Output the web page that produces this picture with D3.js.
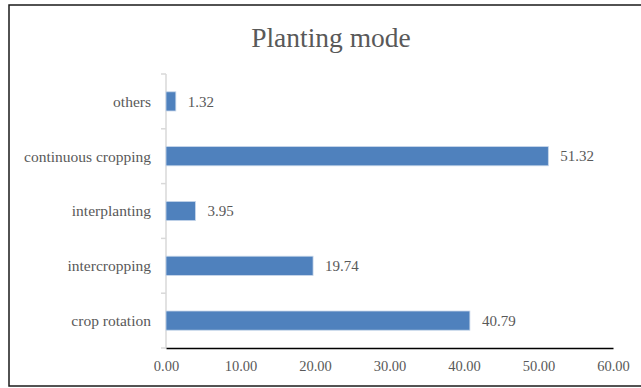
<!DOCTYPE html>
<html>
<head>
<meta charset="utf-8">
<script src="https://cdn.jsdelivr.net/npm/d3@7"></script>
<style>
  html, body { margin: 0; padding: 0; background: #fff; }
  svg { display: block; }
  text { font-family: "Liberation Serif", "Times New Roman", serif; fill: #595959; }
</style>
</head>
<body>
<svg id="chart" width="641" height="388"></svg>
<script>
// Planting mode shares (%)
const categories = ["crop rotation", "intercropping", "interplanting", "continuous cropping", "others"];
const values = [40.79, 19.74, 3.95, 51.32, 1.32];
const xTicks = [0, 10, 20, 30, 40, 50, 60];
const title = "Planting mode";

const svg = d3.select("#chart");

// outer chart frame (right edge runs off the canvas)
svg.append("rect")
  .attr("x", 9).attr("y", 5)
  .attr("width", 700).attr("height", 381)
  .attr("fill", "#fff")
  .attr("stroke", "#1a1a1a").attr("stroke-width", 1.5);

const plot = { left: 166, right: 613, top: 74, bottom: 348 };

const x = d3.scaleLinear().domain([0, 60]).range([plot.left, plot.right]);
const y = d3.scaleBand()
  .domain(categories.slice().reverse())
  .range([plot.top, plot.bottom])
  .paddingInner(0.65).paddingOuter(0.325);

// title
svg.append("text")
  .attr("x", 331).attr("y", 47)
  .attr("text-anchor", "middle")
  .style("font-size", "27.5px")
  .text(title);

// category axis: light grey line with ticks between categories
const band = (plot.bottom - plot.top) / categories.length;
const yAxisG = svg.append("g");
yAxisG.append("line")
  .attr("x1", plot.left).attr("x2", plot.left)
  .attr("y1", plot.top).attr("y2", plot.bottom)
  .attr("stroke", "#d9d9d9").attr("stroke-width", 1.5);
yAxisG.selectAll("line.tick")
  .data(d3.range(categories.length + 1))
  .join("line")
  .attr("class", "tick")
  .attr("x1", plot.left - 5).attr("x2", plot.left)
  .attr("y1", i => plot.top + i * band).attr("y2", i => plot.top + i * band)
  .attr("stroke", "#d9d9d9").attr("stroke-width", 1.5);

yAxisG.selectAll("text.cat")
  .data(categories)
  .join("text")
  .attr("class", "cat")
  .attr("x", plot.left - 15)
  .attr("y", d => y(d) + y.bandwidth() / 2)
  .attr("dy", "0.35em")
  .attr("text-anchor", "end")
  .style("font-size", "15.5px")
  .text(d => d);

// bars
const data = categories.map((c, i) => ({ c, v: values[i] }));
svg.append("g").selectAll("rect")
  .data(data)
  .join("rect")
  .attr("x", x(0))
  .attr("y", d => y(d.c))
  .attr("width", d => x(d.v) - x(0))
  .attr("height", y.bandwidth())
  .attr("fill", "#4f81bd")
  .attr("stroke", "#c6d6ea").attr("stroke-width", 0.8);

// value labels
svg.append("g").selectAll("text")
  .data(data)
  .join("text")
  .attr("x", d => x(d.v) + 12)
  .attr("y", d => y(d.c) + y.bandwidth() / 2)
  .attr("dy", "0.35em")
  .style("font-size", "15px")
  .text(d => d.v.toFixed(2));

// value axis
const xAxis = d3.axisBottom(x).tickValues(xTicks).tickSize(0).tickPadding(13)
  .tickFormat(d => d.toFixed(2));
const xg = svg.append("g").attr("transform", `translate(0,${plot.bottom})`).call(xAxis);
xg.select(".domain").attr("stroke", "#000").attr("stroke-width", 1.6);
xg.selectAll("text")
  .style("font-family", "Liberation Serif, Times New Roman, serif")
  .style("font-size", "14.5px")
  .attr("fill", "#595959");
</script>
</body>
</html>
